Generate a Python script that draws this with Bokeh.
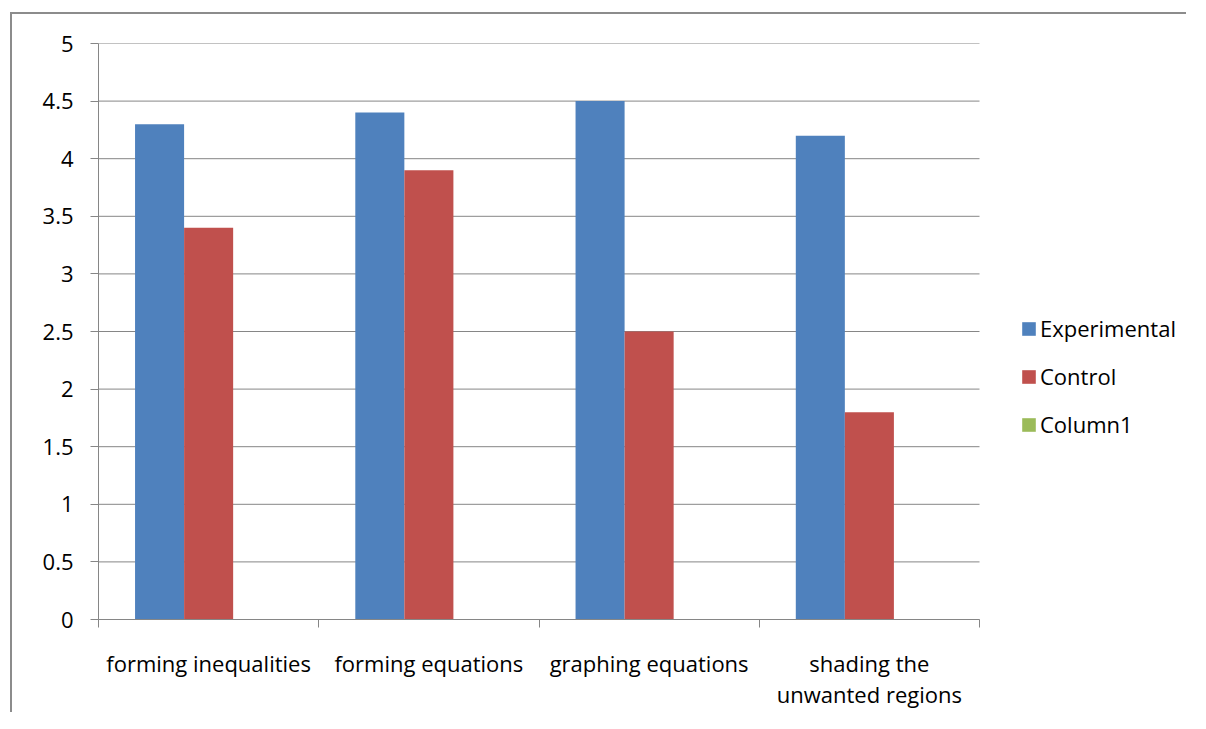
from bokeh.plotting import figure
from bokeh.models import ColumnDataSource, FixedTicker, Legend, LegendItem, Range1d
from bokeh.embed import file_html
from bokeh.resources import INLINE

categories = ["forming inequalities", "forming equations", "graphing equations",
              "shading the\nunwanted regions"]
experimental = [4.3, 4.4, 4.5, 4.2]
control = [3.4, 3.9, 2.5, 1.8]
column1 = [0, 0, 0, 0]
series_names = ["Experimental", "Control", "Column1"]
colors = ["#4F81BD", "#C0504D", "#9BBB59"]
yticks = [0, 0.5, 1, 1.5, 2, 2.5, 3, 3.5, 4, 4.5, 5]

FONT = "Open Sans"
GRAY = "#868686"
FS = "22px"

W, H = 1176, 700
LEFT, TOP, BOTTOM = 86, 29, 95
PLOT_W = 881  # pixel width of the category area
n = len(categories)
frame_w = W - LEFT
x_end = n * frame_w / PLOT_W  # extra room on the right holds the legend

p = figure(width=W, height=H, output_backend="svg", toolbar_location=None,
           x_range=Range1d(0, x_end), y_range=Range1d(0, 5))
p.min_border_left = LEFT
p.min_border_top = TOP
p.min_border_right = 0
p.min_border_bottom = BOTTOM
p.margin = (12, 0, 0, 10)
p.styles = {"border-left": "2px solid #8c8c8c", "border-top": "2px solid #8c8c8c"}
p.outline_line_color = None
p.background_fill_color = "white"
p.border_fill_color = "white"

# horizontal gridlines limited to the category area
p.xgrid.visible = False
p.ygrid.visible = False
p.segment(x0=[0] * len(yticks), x1=[n] * len(yticks), y0=yticks, y1=yticks,
          line_color=GRAY, line_width=1)

centers = [i + 0.5 for i in range(n)]
bw = 0.2227
offsets = [-bw, 0, bw]
renderers = []
for vals, off, col in zip([experimental, control, column1], offsets, colors):
    src = ColumnDataSource(dict(x=[c + off for c in centers], top=vals))
    r = p.vbar(x="x", top="top", bottom=0, width=bw, source=src,
               fill_color=col, line_color=None)
    renderers.append(r)

# axes
p.yaxis.ticker = FixedTicker(ticks=yticks)
p.yaxis.axis_line_color = GRAY
p.yaxis.major_tick_line_color = GRAY
p.yaxis.major_tick_out = 8
p.yaxis.major_tick_in = 0
p.yaxis.minor_tick_line_color = None
p.yaxis.major_label_text_font = FONT
p.yaxis.major_label_text_font_size = FS
p.yaxis.major_label_text_color = "black"
p.yaxis.major_label_standoff = 17
p.yaxis.major_label_overrides = {t: ("%g" % t) for t in yticks}

p.xaxis.bounds = (0, n)
p.xaxis.ticker = FixedTicker(ticks=centers, minor_ticks=list(range(n + 1)))
p.xaxis.major_label_overrides = {c: lab for c, lab in zip(centers, categories)}
p.xaxis.axis_line_color = GRAY
p.xaxis.major_tick_line_color = None
p.xaxis.minor_tick_line_color = GRAY
p.xaxis.minor_tick_out = 8
p.xaxis.minor_tick_in = 0
p.xaxis.major_label_text_font = FONT
p.xaxis.major_label_text_font_size = FS
p.xaxis.major_label_text_line_height = 1.05
p.xaxis.major_label_text_color = "black"
p.xaxis.major_label_standoff = 20

legend = Legend(items=[LegendItem(label=nm, renderers=[r]) for nm, r in zip(series_names, renderers)],
                location=(922, 180))
legend.border_line_color = None
legend.background_fill_alpha = 0
legend.padding = 0
legend.margin = 0
legend.spacing = 18
legend.glyph_width = 17
legend.glyph_height = 17
legend.label_height = 24
legend.label_standoff = 3
legend.label_text_font = FONT
legend.label_text_font_size = FS
legend.label_text_color = "black"
p.add_layout(legend, "center")

open("out.html", "w").write(file_html(p, INLINE))
